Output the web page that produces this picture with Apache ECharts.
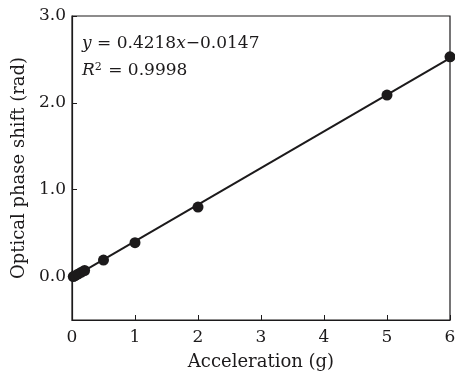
<!DOCTYPE html>
<html>
<head>
<meta charset="utf-8">
<script src="https://cdn.jsdelivr.net/npm/echarts@6/dist/echarts.min.js"></script>
<style>
  html, body { margin: 0; padding: 0; background: #fff; }
  #chart { width: 455px; height: 374px; }
</style>
</head>
<body>
<div id="chart"></div>
<script>
  // measured points (acceleration in g, phase shift in rad)
  var accel = [0.02, 0.05, 0.1, 0.15, 0.2, 0.5, 1, 2, 5, 6];
  var phase = [0.0, 0.01, 0.03, 0.05, 0.07, 0.19, 0.39, 0.80, 2.09, 2.53];
  // fitted line end points
  var fitX = [0, 6];
  var fitY = [-0.015, 2.516];
  var xTicks = [0, 1, 2, 3, 4, 5, 6];
  var yTicks = [0, 1, 2, 3];

  var ink = '#1c1a1b';
  var font = '"DejaVu Serif", "Liberation Serif", serif';

  var myChart = echarts.init(document.getElementById('chart'));
  var points = accel.map(function (v, i) { return [v, phase[i]]; });
  var fit = fitX.map(function (v, i) { return [v, fitY[i]]; });

  var option = {
    animation: false,
    grid: {
      left: 72,
      right: 5,
      top: 16,
      bottom: 54,
      outerBoundsMode: 'none',
      containLabel: false,
      show: true,
      borderColor: ink,
      borderWidth: 1.2
    },
    xAxis: {
      type: 'value',
      min: 0,
      max: 6,
      interval: 1,
      name: 'Acceleration (g)',
      nameLocation: 'middle',
      nameGap: 33,
      nameTextStyle: { fontFamily: font, fontSize: 18, color: ink },
      axisLine: { onZero: false, lineStyle: { color: ink, width: 1.2 } },
      axisTick: { inside: true, length: 5, lineStyle: { color: ink } },
      axisLabel: { fontFamily: font, fontSize: 17, color: ink, margin: 9 },
      splitLine: { show: false }
    },
    yAxis: {
      type: 'value',
      min: -0.5,
      max: 3,
      name: 'Optical phase shift (rad)',
      nameLocation: 'middle',
      nameGap: 44,
      nameTextStyle: { fontFamily: font, fontSize: 18, color: ink },
      axisLine: { onZero: false, lineStyle: { color: ink, width: 1.2 } },
      axisTick: { inside: true, length: 5, customValues: yTicks, lineStyle: { color: ink } },
      axisLabel: {
        fontFamily: font, fontSize: 17, color: ink, margin: 6,
        customValues: yTicks,
        formatter: function (v) { return v.toFixed(1); }
      },
      splitLine: { show: false }
    },
    graphic: [{
      type: 'text',
      left: 82,
      top: 30,
      style: {
        text: '{i|y} = 0.4218{i|x}\u22120.0147\n{i|R}{s|2} = 0.9998',
        fontFamily: font,
        fontSize: 17,
        fill: ink,
        lineHeight: 27,
        rich: {
          i: { fontFamily: font, fontSize: 17, fontStyle: 'italic', fill: ink },
          s: { fontFamily: font, fontSize: 11, fill: ink, padding: [0, 1, 6, 0] }
        }
      }
    }],
    series: [
      {
        type: 'line',
        data: fit,
        symbol: 'none',
        lineStyle: { color: ink, width: 2 },
        z: 2
      },
      {
        type: 'scatter',
        data: points,
        symbol: 'circle',
        symbolSize: 11,
        itemStyle: { color: ink, opacity: 1 },
        z: 3
      }
    ]
  };

  myChart.setOption(option);
</script>
</body>
</html>
